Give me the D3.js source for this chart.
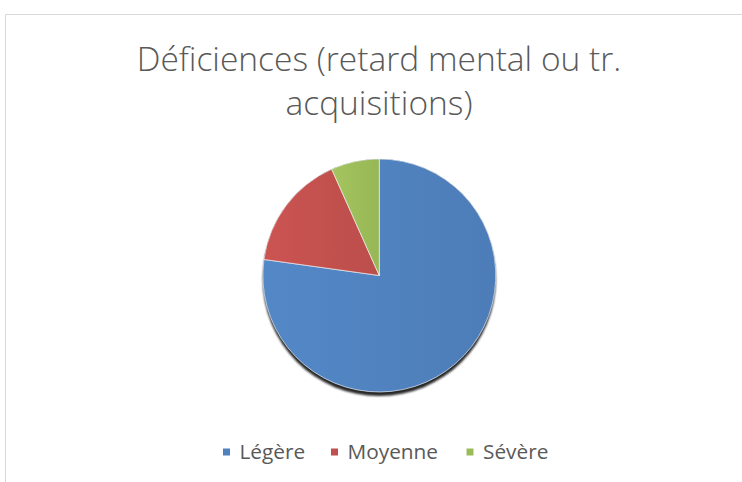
<!DOCTYPE html>
<html><head><meta charset="utf-8">
<script src="https://cdn.jsdelivr.net/npm/d3@7"></script>
<style>html,body{margin:0;padding:0;background:#fff;}svg{display:block;}</style>
</head><body>
<script>
const categories = ["Légère", "Moyenne", "Sévère"];
const values = [77.2, 16.1, 6.7];
const colors = ["#4f81bd", "#c0504d", "#9bbb59"];
const titleLines = ["Déficiences (retard mental ou tr.", "acquisitions)"];

const W = 742, H = 482;
const svg = d3.select("body").append("svg").attr("width", W).attr("height", H);
const defs = svg.append("defs");

// chart border
svg.append("path").attr("d", `M5.5,${H} L5.5,14.5 L${W},14.5`)
  .attr("fill", "none").attr("stroke", "#d9d9d9").attr("stroke-width", 1);

// title
const font = "'Open Sans', 'Liberation Sans', sans-serif";
svg.append("g").selectAll("text").data(titleLines).join("text")
  .attr("x", 379)
  .attr("y", (d, i) => 71 + i * 44)
  .attr("text-anchor", "middle")
  .attr("font-family", font).attr("font-weight", 300)
  .attr("font-size", 33.5).attr("fill", "#595959")
  .text(d => d);

// gradients & shadow
colors.forEach((c, i) => {
  const g = defs.append("linearGradient").attr("id", "g" + i)
    .attr("x1", "0").attr("y1", "0").attr("x2", "1").attr("y2", "0");
  g.append("stop").attr("offset", "0").attr("stop-color", d3.color(c).brighter(0.15));
  g.append("stop").attr("offset", "1").attr("stop-color", d3.color(c).darker(0.08));
});
const f = defs.append("filter").attr("id", "sh").attr("x", "-20%").attr("y", "-20%").attr("width", "140%").attr("height", "140%");
f.append("feGaussianBlur").attr("in", "SourceAlpha").attr("stdDeviation", 1.2).attr("result", "b");
f.append("feOffset").attr("in", "b").attr("dy", 4).attr("result", "o");
f.append("feComponentTransfer").attr("in", "o").attr("result", "o2")
  .append("feFuncA").attr("type", "linear").attr("slope", 0.85);
const m = f.append("feMerge");
m.append("feMergeNode").attr("in", "o2");
m.append("feMergeNode").attr("in", "SourceGraphic");

const cx = 379.3, cy = 275.5, r = 116.5;
const pie = d3.pie().sort(null).value(d => d)(values);
const arc = d3.arc().innerRadius(0).outerRadius(r);
const pg = svg.append("g").attr("transform", `translate(${cx},${cy})`);
pg.append("circle").attr("r", r).attr("fill", "#17304f").attr("filter", "url(#sh)");
pg.selectAll("path").data(pie).join("path")
  .attr("d", arc)
  .attr("fill", (d, i) => `url(#g${i})`)
  .attr("stroke", "#fff").attr("stroke-width", 0.8).attr("stroke-opacity", 0.8);

// legend
const legX = [226.5, 334.5, 470];
const lg = svg.append("g").selectAll("g").data(categories).join("g")
  .attr("transform", (d, i) => `translate(${legX[i]},452)`);
lg.append("rect").attr("x", -3.5).attr("y", -3.5).attr("width", 7).attr("height", 7)
  .attr("fill", (d, i) => colors[i]);
lg.append("text").attr("x", 13).attr("y", 0).attr("dy", "0.35em")
  .attr("font-family", font).attr("font-size", 20.8).attr("fill", "#595959")
  .text(d => d);
</script>
</body></html>
